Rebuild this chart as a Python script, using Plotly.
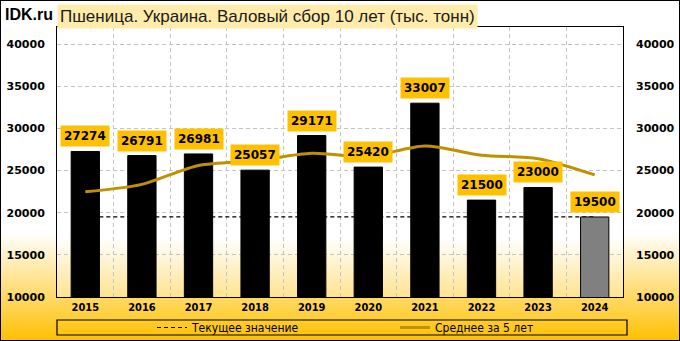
import base64
import plotly.graph_objects as go

years = ["2015", "2016", "2017", "2018", "2019", "2020", "2021", "2022", "2023", "2024"]
harvest = [27274, 26791, 26981, 25057, 29171, 25420, 33007, 21500, 23000, 19500]
avg5 = [22480, 23370, 25620, 26170, 27060, 26680, 27930, 26830, 26420, 24490]
current_value = 19500
y_ticks = [10000, 15000, 20000, 25000, 30000, 35000, 40000]

title_text = "Пшеница. Украина. Валовый сбор 10 лет (тыс. тонн)"
brand_text = "IDK.ru"
legend_current = "Текущее значение"
legend_avg = "Среднее за 5 лет"

W, H = 680, 341
ML, MR, MT, MB = 57, 57, 27, 44
PW, PH = W - ML - MR, H - MT - MB
YMIN, YMAX = 10000, 42050


def px_x(px):
    return (px - ML) / PW


def px_y(py):
    return (H - MB - py) / PH


def svg_uri(svg):
    return "data:image/svg+xml;base64," + base64.b64encode(svg.encode("utf-8")).decode("ascii")


paper_svg = (
    f"<svg xmlns='http://www.w3.org/2000/svg' width='{W}' height='{H}' viewBox='0 0 {W} {H}' preserveAspectRatio='none'>"
    "<defs><linearGradient id='g' x1='0' y1='0' x2='0' y2='1'>"
    "<stop offset='0' stop-color='#FFFFFF'/><stop offset='0.68' stop-color='#FFFFFF'/>"
    "<stop offset='1' stop-color='#FFC000'/></linearGradient></defs>"
    f"<rect x='0' y='0' width='{W}' height='{H}' fill='url(#g)'/>"
    f"<rect x='0.5' y='0.5' width='{W-1}' height='{H-1}' fill='none' stroke='#000000' stroke-width='1'/>"
    "</svg>"
)
plot_svg = (
    f"<svg xmlns='http://www.w3.org/2000/svg' width='{PW}' height='{PH}' viewBox='0 0 {PW} {PH}' preserveAspectRatio='none'>"
    "<defs><linearGradient id='g' x1='0' y1='0' x2='0' y2='1'>"
    "<stop offset='0' stop-color='#FFFFFF'/><stop offset='0.78' stop-color='#FFFFFF'/>"
    "<stop offset='1' stop-color='#FFE38F'/></linearGradient></defs>"
    f"<rect x='0' y='0' width='{PW}' height='{PH}' fill='url(#g)'/>"
    "</svg>"
)

fig = go.Figure()

# current value line (behind bars, on base subplot)
fig.add_trace(go.Scatter(
    x=years, y=[current_value] * len(years), mode="lines", name=legend_current,
    line=dict(color="#000000", width=1.2, dash="4px,3px"), xaxis="x", yaxis="y",
    hoverinfo="skip", legend="legend",
))

bar_colors = ["#000000"] * (len(years) - 1) + ["#808080"]
fig.add_trace(go.Bar(
    x=years, y=harvest, marker=dict(color=bar_colors, line=dict(color="#000000", width=1)),
    width=0.5, showlegend=False, xaxis="x", yaxis="y2",
))

fig.add_trace(go.Scatter(
    x=years, y=avg5, mode="lines", name=legend_avg,
    line=dict(color="#BF9000", width=3, shape="spline", smoothing=0.8), xaxis="x", yaxis="y2",
    legend="legend2",
))

annotations = []
for i, v in enumerate(harvest):
    annotations.append(dict(
        x=i, y=v, xref="x", yref="y2", text=str(v), showarrow=False,
        yanchor="bottom", yshift=4, bgcolor="#FFC000", borderpad=3,
        font=dict(family="DejaVu Sans", size=12, color="#000000", weight="bold"),
    ))

annotations.append(dict(
    x=0, y=px_y(4), xref="paper", yref="paper", xanchor="left", yanchor="top",
    text=title_text, showarrow=False, bgcolor="#FFEBAA", borderpad=2,
    font=dict(family="Liberation Sans", size=17, color="#1A1A1A"),
))
annotations.append(dict(
    x=px_x(3), y=px_y(4), xref="paper", yref="paper", xanchor="left", yanchor="top",
    text=brand_text, showarrow=False,
    font=dict(family="Liberation Sans", size=16, color="#000000", weight="bold"),
))

shapes = [dict(
    type="rect", xref="paper", yref="paper",
    x0=0, x1=px_x(627), y0=px_y(320), y1=px_y(335),
    line=dict(color="#000000", width=1.2), fillcolor="rgba(0,0,0,0)", layer="above",
)]

images = [
    dict(source=svg_uri(paper_svg), xref="paper", yref="paper",
         x=-ML / PW, y=1 + MT / PH, sizex=W / PW, sizey=H / PH,
         xanchor="left", yanchor="top", sizing="stretch", layer="below"),
    dict(source=svg_uri(plot_svg), xref="paper", yref="paper",
         x=0, y=1, sizex=1, sizey=1,
         xanchor="left", yanchor="top", sizing="stretch", layer="below"),
]

legend_font = dict(family="DejaVu Sans Condensed", size=12, color="#000000")
tick_font = dict(family="DejaVu Sans", size=11, color="#000000", weight="bold")
grid = dict(showgrid=True, gridcolor="#C4C4C4", griddash="4px,3px", gridwidth=1)
fig.update_layout(
    width=W, height=H,
    margin=dict(l=ML, r=MR, t=MT, b=MB, autoexpand=False),
    paper_bgcolor="rgba(0,0,0,0)", plot_bgcolor="rgba(0,0,0,0)",
    showlegend=True,
    legend=dict(
        orientation="h", x=px_x(152), xanchor="left", y=px_y(327.5), yanchor="middle",
        bgcolor="rgba(0,0,0,0)", font=legend_font, itemclick=False,
    ),
    legend2=dict(
        orientation="h", x=px_x(395), xanchor="left", y=px_y(327.5), yanchor="middle",
        bgcolor="rgba(0,0,0,0)", font=legend_font, itemclick=False,
    ),
    xaxis=dict(
        type="category", range=[-0.5, len(years) - 0.5], tickson="boundaries",
        showline=True, linecolor="#000000", linewidth=1, mirror=True,
        ticks="", tickfont=dict(family="DejaVu Sans Condensed", size=11, color="#000000", weight="bold"),
        fixedrange=True, **grid,
    ),
    yaxis=dict(
        range=[YMIN, YMAX], tickvals=y_ticks, ticktext=[str(t) for t in y_ticks],
        showline=True, linecolor="#000000", linewidth=1, mirror=True,
        ticks="", ticklabelstandoff=9, tickfont=tick_font, zeroline=False, fixedrange=True, **grid,
    ),
    yaxis2=dict(
        range=[YMIN, YMAX], tickvals=y_ticks, ticktext=[str(t) for t in y_ticks],
        overlaying="y", side="right", showgrid=False, zeroline=False,
        ticks="", ticklabelstandoff=12, tickfont=tick_font, fixedrange=True,
    ),
    annotations=annotations, shapes=shapes, images=images,
)

fig.write_html("out.html")
